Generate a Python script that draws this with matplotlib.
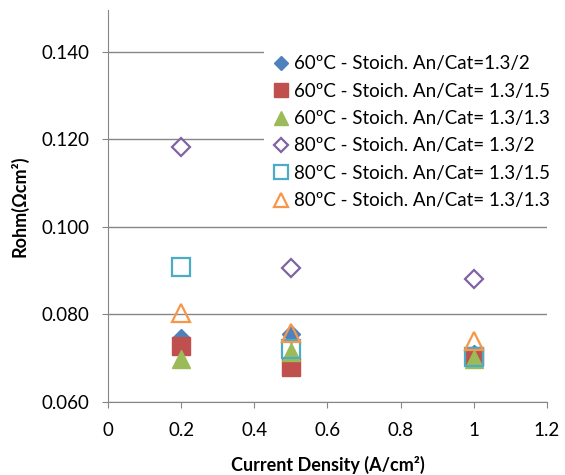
import matplotlib.pyplot as plt

plt.rcParams['font.family'] = ['Lato', 'DejaVu Sans']

current = [0.2, 0.5, 1.0]

r60_2 = [0.0746, 0.0755, 0.0710]
r60_15 = [0.0728, 0.0680, 0.0705]
r60_13 = [0.0698, 0.0714, 0.0698]
r80_2 = [0.1182, 0.0906, 0.0881]
r80_15 = [0.0909, 0.0721, 0.0703]
r80_13 = [0.0803, 0.0758, 0.0738]

labels = [
    "60ºC - Stoich. An/Cat=1.3/2",
    "60ºC - Stoich. An/Cat= 1.3/1.5",
    "60ºC - Stoich. An/Cat= 1.3/1.3",
    "80ºC - Stoich. An/Cat= 1.3/2",
    "80ºC - Stoich. An/Cat= 1.3/1.5",
    "80ºC - Stoich. An/Cat= 1.3/1.3",
]

fig = plt.figure(figsize=(5.65, 4.75), dpi=100)
ax = fig.add_axes([0.191, 0.154, 0.777, 0.825])

ax.plot(current, r60_2, ls="none", marker="D", ms=9.5, color="#4F81BD", label=labels[0])
ax.plot(current, r60_15, ls="none", marker="s", ms=12.5, color="#C0504D", label=labels[1])
ax.plot(current, r60_13, ls="none", marker="^", ms=13.5, color="#9BBB59", label=labels[2])
ax.plot(current, r80_2, ls="none", marker="D", ms=9.5, mfc="none", mec="#8064A2", mew=1.6, label=labels[3])
ax.plot(current, r80_15, ls="none", marker="s", ms=12.5, mfc="none", mec="#4BACC6", mew=1.6, label=labels[4])
ax.plot(current, r80_13, ls="none", marker="^", ms=13.5, mfc="none", mec="#F79646", mew=1.6, label=labels[5])

ax.set_xlim(0, 1.2)
ax.set_ylim(0.060, 0.1495)
ax.set_xticks([0, 0.2, 0.4, 0.6, 0.8, 1.0, 1.2])
ax.set_xticklabels(["0", "0.2", "0.4", "0.6", "0.8", "1", "1.2"])
ax.set_yticks([0.060, 0.080, 0.100, 0.120, 0.140])
ax.set_yticklabels(["0.060", "0.080", "0.100", "0.120", "0.140"])
ax.tick_params(labelsize=13.5, colors="#868686", labelcolor="#000000",
               direction="out", length=4.5)
ax.tick_params(axis="x", pad=10)
ax.tick_params(axis="y", pad=9)
ax.yaxis.grid(True, color="#868686", lw=1)
ax.set_axisbelow(True)
for s in ["top", "right"]:
    ax.spines[s].set_visible(False)
for s in ["left", "bottom"]:
    ax.spines[s].set_color("#868686")

ax.set_xlabel("Current Density (A/cm²)", fontsize=13, fontweight="bold", labelpad=12)
ax.set_ylabel("Rohm(Ωcm²)", fontsize=13, fontweight="bold", labelpad=9)

leg = fig.legend(loc="upper left", bbox_to_anchor=(264 / 565, 1 - 48 / 475), frameon=True,
                 fontsize=13.5, handletextpad=0.2, handlelength=1.0,
                 labelspacing=0.55, borderaxespad=0, markerscale=0.75)
leg.get_frame().set_edgecolor("none")
leg.get_frame().set_facecolor("white")
leg.get_frame().set_alpha(1)
leg.get_frame().set_boxstyle("square", pad=0)

fig.savefig("out.png", dpi=100)
